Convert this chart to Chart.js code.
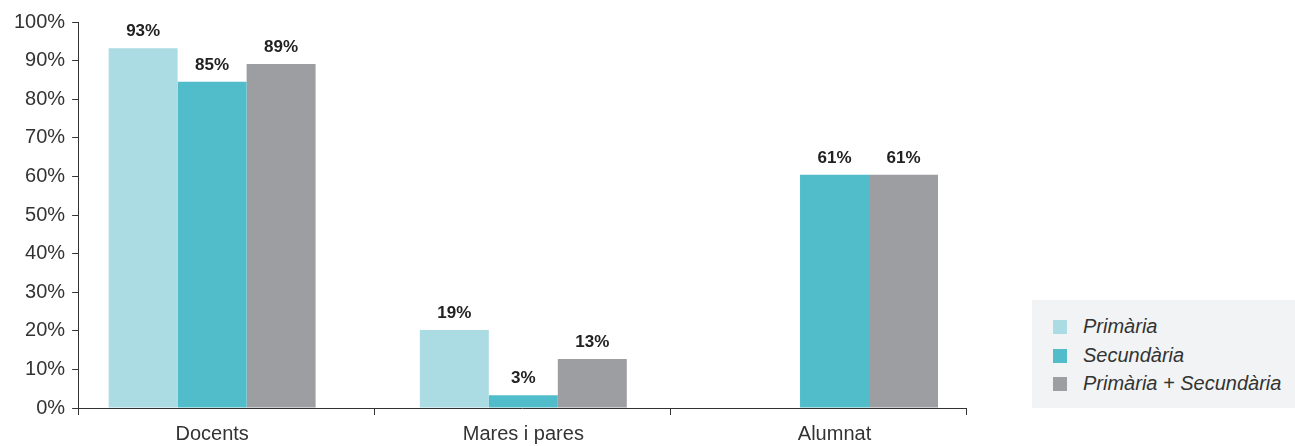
<!DOCTYPE html>
<html>
<head>
<meta charset="utf-8">
<script src="https://cdn.jsdelivr.net/npm/chart.js@4.4.0/dist/chart.umd.min.js"></script>
<style>
  body { margin: 0; background: #fff; font-family: "Liberation Sans", Arial, sans-serif; }
  .wrap { position: absolute; left: 0; top: 0; width: 980px; height: 446px; }
  .legend { position: absolute; left: 1032px; top: 300px; width: 263px; height: 108px; background: #f2f3f4; }
  .legend .item { position: absolute; left: 21px; height: 24px; line-height: 24px; font-size: 20px; font-style: italic; color: #333; white-space: nowrap; }
  .legend .box { display: inline-block; width: 14px; height: 14px; vertical-align: -1px; margin-right: 16px; }
</style>
</head>
<body>
<div class="wrap"><canvas id="barchart"></canvas></div>
<div class="legend" id="legend"></div>
<script>
// categories and series
const categories = ['Docents', 'Mares i pares', 'Alumnat'];
const seriesNames = ['Primària', 'Secundària', 'Primària + Secundària'];
const colors = ['#abdbe3', '#52bdca', '#9d9ea2'];

// bar heights as drawn
const primaria = [93.2, 20.2, null];
const secundaria = [84.5, 3.3, 60.4];
const ambdues = [89.1, 12.7, 60.4];

// printed labels
const primariaLabels = ['93%', '19%', ''];
const secundariaLabels = ['85%', '3%', '61%'];
const ambduesLabels = ['89%', '13%', '61%'];

const yTicks = [0, 10, 20, 30, 40, 50, 60, 70, 80, 90, 100];
const xDividers = [0, 1, 2, 3];

const values = [primaria, secundaria, ambdues];
const labelSets = [primariaLabels, secundariaLabels, ambduesLabels];

const ctx = document.getElementById("barchart").getContext('2d');

const valueLabels = {
    id: 'valueLabels',
    afterDatasetsDraw(chart) {
        const c = chart.ctx;
        c.save();
        c.font = 'bold 17px "Liberation Sans", Arial, sans-serif';
        c.fillStyle = '#222';
        c.textAlign = 'center';
        c.textBaseline = 'middle';
        chart.data.datasets.forEach((ds, i) => {
            chart.getDatasetMeta(i).data.forEach((bar, j) => {
                if (ds.data[j].y == null) return;
                c.fillText(labelSets[i][j], bar.x, bar.y - 17);
            });
        });
        c.restore();
    }
};

const data = {
    datasets: seriesNames.map((name, i) => ({
        label: name,
        data: values[i].map((v, j) => ({ x: j, y: v })),
        backgroundColor: colors[i],
        borderWidth: 0,
        categoryPercentage: 0.665,
        barPercentage: 1.0
    }))
};

const font20 = { size: 20, family: '"Liberation Sans", Arial, sans-serif' };

const config = {
    type: 'bar',
    data: data,
    options: {
        responsive: true,
        maintainAspectRatio: false,
        animation: false,
        layout: { padding: { left: 7, right: 14, top: 22, bottom: 0 } },
        plugins: {
            legend: { display: false },
            tooltip: { enabled: false }
        },
        scales: {
            x: {
                type: 'linear',
                offset: false,
                min: -0.4305,
                max: 2.4225,
                weight: 1,
                afterBuildTicks: (axis) => { axis.ticks = categories.map((c, i) => ({ value: i })); },
                afterFit: (s) => { s.height = 38; },
                grid: { display: false, drawTicks: false, offset: false },
                border: { display: false },
                ticks: {
                    color: '#333',
                    font: { ...font20, lineHeight: 1.0 },
                    padding: 16,
                    maxRotation: 0,
                    callback: (v) => categories[v]
                }
            },
            x2: {
                type: 'linear',
                position: 'bottom',
                offset: false,
                min: 0,
                max: 3,
                weight: -1,
                afterBuildTicks: (axis) => { axis.ticks = xDividers.map(v => ({ value: v })); },
                afterFit: (s) => { s.height = 0; },
                grid: { display: true, drawOnChartArea: false, tickLength: 7, color: '#333', offset: false },
                border: { display: true, color: '#333', width: 1 },
                ticks: { display: false }
            },
            y: {
                min: 0,
                max: 100,
                afterBuildTicks: (axis) => { axis.ticks = yTicks.map(v => ({ value: v })); },
                grid: { display: true, drawOnChartArea: false, tickLength: 6, color: '#333' },
                border: { display: true, color: '#333', width: 1 },
                ticks: {
                    color: '#333',
                    padding: 7,
                    font: font20,
                    callback: (v) => v + '%'
                }
            }
        }
    },
    plugins: [valueLabels]
};

const myChart = new Chart(ctx, config);

// legend
const legend = document.getElementById('legend');
seriesNames.forEach((name, i) => {
    const item = document.createElement('div');
    item.className = 'item';
    item.style.top = (14 + i * 28.5) + 'px';
    item.innerHTML = '<span class="box" style="background:' + colors[i] + '"></span>' + name;
    legend.appendChild(item);
});
</script>
</body>
</html>
